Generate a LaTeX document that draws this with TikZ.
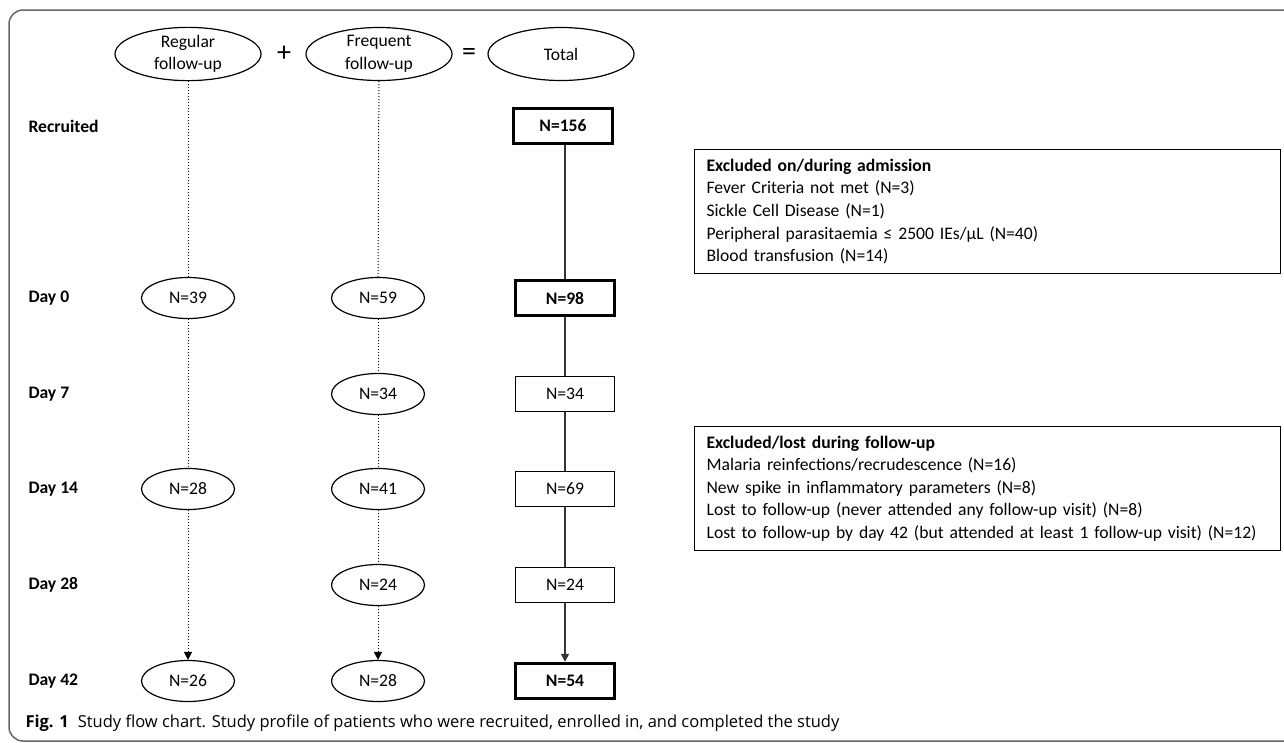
\documentclass[tikz,border=0pt]{standalone}
\usepackage{fontspec}
\setmainfont{Carlito}
\newfontfamily\capfont{Open Sans}
\usetikzlibrary{arrows.meta,shapes.geometric}

\begin{document}
\begin{tikzpicture}[x=1pt,y=-1pt,
    font=\fontsize{17.6}{22.6}\selectfont,
    grp/.style={ellipse,draw,line width=1.2pt,minimum width=93pt,minimum height=41pt,inner sep=0pt},
    head/.style={grp,minimum width=146pt,minimum height=53pt,align=center},
    tot/.style={rectangle,draw,line width=1.2pt,minimum width=99pt,minimum height=35pt,inner sep=0pt},
    totb/.style={tot,line width=3.5pt,font=\fontsize{17.6}{22.6}\selectfont\bfseries},
    rowlab/.style={anchor=west,font=\fontsize{17.6}{22.6}\selectfont\bfseries},
    excl/.style={draw,line width=1.2pt,anchor=north west,align=left,text width=562pt,minimum height=124pt,inner xsep=12pt,inner ysep=6pt},
    dots/.style={dotted,line width=1pt},
    link/.style={line width=1.5pt,black!80},
    tip/.style={-{Triangle[length=8pt,width=8pt]}}]
        \useasboundingbox (0,0) rectangle (1284,742);
        % Frame
        \draw[gray!80!black, line width=1.5pt, rounded corners=14pt] (9,10) rectangle (1300,741);

        % Header
        \node[head] (hreg) at (188,54) {Regular\\follow-up};
        \node[head] (hfreq) at (379,54) {Frequent\\follow-up};
        \node[head] (htot) at (561,54) {Total};
        \node[font=\fontsize{28}{28}\selectfont] (plus) at (284,54) {+};
        \node[font=\fontsize{28}{28}\selectfont] (eq) at (469,54) {=};

        % Row labels
        \node[rowlab] (lrec) at (25,126) {Recruited};
        \node[rowlab] (l0) at (25,298) {Day 0};
        \node[rowlab] (l7) at (25,394) {Day 7};
        \node[rowlab] (l14) at (25,489) {Day 14};
        \node[rowlab] (l28) at (25,585) {Day 28};
        \node[rowlab] (l42) at (25,681) {Day 42};

        % Regular follow-up
        \node[grp] (r0) at (188,298) {N=39};
        \node[grp] (r14) at (188,489) {N=28};
        \node[grp] (r42) at (188,681) {N=26};

        % Frequent follow-up
        \node[grp] (f0) at (378,298) {N=59};
        \node[grp] (f7) at (378,394) {N=34};
        \node[grp] (f14) at (378,489) {N=41};
        \node[grp] (f28) at (378,585) {N=24};
        \node[grp] (f42) at (378,681) {N=28};

        % Total
        \node[totb] (trec) at (563,126) {N=156};
        \node[totb] (t0) at (565,298) {N=98};
        \node[tot] (t7) at (565,394) {N=34};
        \node[tot] (t14) at (565,489) {N=69};
        \node[tot] (t28) at (565,585) {N=24};
        \node[totb] (t42) at (565,681) {N=54};

        % Connectors
        \draw[dots] (hreg) -- (r0);
        \draw[dots] (r0) -- (r14);
        \draw[dots, tip] (r14) -- (r42);
        \draw[dots] (hfreq) -- (f0);
        \draw[dots] (f0) -- (f7);
        \draw[dots] (f7) -- (f14);
        \draw[dots] (f14) -- (f28);
        \draw[dots, tip] (f28) -- (f42);
        \draw[link] (trec.south -| t0) -- (t0);
        \draw[link] (t0) -- (t7);
        \draw[link] (t7) -- (t14);
        \draw[link] (t14) -- (t28);
        \draw[link, tip] (t28) -- (t42);

        % Exclusions
        \node[excl] (exadm) at (694,149) {\textbf{Excluded on/during admission}\\
            Fever Criteria not met (N=3)\\
            Sickle Cell Disease (N=1)\\
            Peripheral parasitaemia ≤ 2500 IEs/µL (N=40)\\
            Blood transfusion (N=14)};
        \node[excl] (exfup) at (694,426) {\textbf{Excluded/lost during follow-up}\\
            Malaria reinfections/recrudescence (N=16)\\
            New spike in inflammatory parameters (N=8)\\
            Lost to follow-up (never attended any follow-up visit) (N=8)\\
            Lost to follow-up by day 42 (but attended at least 1 follow-up visit) (N=12)};

        % Caption
        \node[anchor=west, font=\capfont\fontsize{16.5}{20}\selectfont] (cap) at (22,723)
            {\textbf{Fig. 1}\hspace{9pt}Study flow chart. Study profile of patients who were recruited, enrolled in, and completed the study};
\end{tikzpicture}
\end{document}
